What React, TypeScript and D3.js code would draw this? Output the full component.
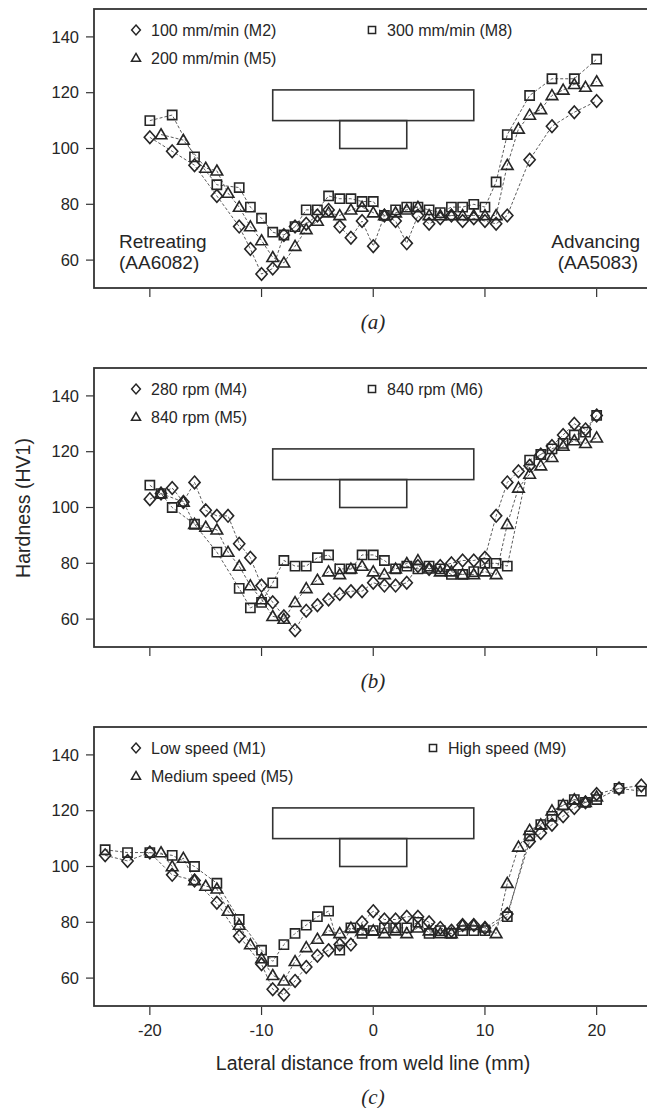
import React from 'react';
import * as d3 from 'd3';

const W = 647;
const H = 1108;
const xTickValues = [-20, -10, 0, 10, 20];
const yTickValues = [60, 80, 100, 120, 140];

// Tool schematic (shoulder and pin)
const shoulderX = [-9, 9];
const shoulderY = [110, 121];
const pinX = [-3, 3];
const pinY = [100, 110];

// Panel (a): traverse speed
const aM2X = [-20,-18,-16,-14,-12,-11,-10,-9,-8,-7,-6,-5,-4,-3,-2,-1,0,1,2,3,4,5,6,7,8,9,10,11,12,14,16,18,20];
const aM2Y = [104,99,94,83,72,64,55,57,69,72,73,76,78,72,68,74,65,76,74,66,76,73,75,76,74,75,74,73,76,96,108,113,117];
const aM8X = [-20,-18,-16,-14,-12,-11,-10,-9,-8,-7,-6,-5,-4,-3,-2,-1,0,1,2,3,4,5,6,7,8,9,10,11,12,14,16,18,20];
const aM8Y = [110,112,97,87,86,79,75,70,69,72,78,78,83,82,82,81,81,76,78,79,79,78,77,79,79,80,79,88,105,119,125,125,132];
const aM5X = [-19,-17,-15,-14,-13,-12,-11,-10,-9,-8,-7,-6,-5,-4,-3,-2,-1,0,1,2,3,4,5,6,7,8,9,10,11,12,13,14,15,16,17,18,19,20];
const aM5Y = [105,103,93,92,84,79,72,67,61,59,65,71,74,77,76,78,79,77,76,77,78,79,76,76,76,76,76,76,76,94,107,112,114,119,121,123,122,124];

// Panel (b): rotation speed
const bM4X = [-20,-19,-18,-17,-16,-15,-14,-13,-12,-11,-10,-9,-8,-7,-6,-5,-4,-3,-2,-1,0,1,2,3,4,5,6,7,8,9,10,11,12,13,14,15,16,17,18,19,20];
const bM4Y = [103,105,107,102,109,99,97,97,87,82,72,66,61,56,63,65,67,69,70,70,73,72,72,73,79,78,79,80,81,81,82,97,109,113,115,119,122,126,130,128,133];
const bM6X = [-20,-19,-18,-16,-14,-12,-11,-10,-9,-8,-7,-6,-5,-4,-3,-2,-1,0,1,2,3,4,5,6,7,8,9,10,11,12,14,15,16,17,18,19,20];
const bM6Y = [108,105,100,94,84,71,64,66,73,81,79,79,82,83,78,78,83,83,81,78,79,78,79,78,76,76,77,80,80,79,117,119,121,123,126,127,133];
const bM5X = [-19,-17,-16,-15,-14,-13,-12,-11,-10,-9,-8,-7,-6,-5,-4,-3,-2,-1,0,1,2,3,4,5,6,7,8,9,10,11,12,13,14,15,16,17,18,19,20];
const bM5Y = [105,102,94,93,92,84,79,72,67,61,60,66,71,74,77,76,78,79,77,76,78,80,81,78,77,77,76,76,77,76,94,107,112,115,118,122,124,123,125];

// Panel (c): overall speed
const cM1X = [-24,-22,-20,-18,-16,-14,-12,-10,-9,-8,-7,-6,-5,-4,-3,-2,-1,0,1,2,3,4,5,6,7,8,9,10,12,14,15,16,17,18,19,20,22,24];
const cM1Y = [104,102,105,97,95,87,75,65,56,54,59,64,68,70,72,72,80,84,81,81,82,82,80,78,77,79,79,78,83,109,112,115,118,121,123,126,128,129];
const cM9X = [-24,-22,-20,-18,-16,-14,-12,-10,-9,-8,-7,-6,-5,-4,-3,-2,-1,0,1,2,3,4,5,6,7,8,9,10,12,14,15,16,17,18,19,20,22,24];
const cM9Y = [106,105,105,104,100,94,81,70,66,72,76,79,82,84,70,78,76,77,78,78,78,80,76,77,76,77,77,77,82,111,115,118,122,124,123,124,128,127];
const cM5X = [-19,-18,-17,-16,-15,-14,-13,-12,-11,-10,-9,-8,-7,-6,-5,-4,-3,-2,-1,0,1,2,3,4,5,6,7,8,9,10,11,12,13,14,15,16,17,18,19,20];
const cM5Y = [105,100,103,95,93,92,84,79,72,67,61,59,66,71,74,77,76,78,77,77,76,77,76,78,77,76,76,79,79,78,76,94,107,113,115,120,122,124,123,125];

const legendA = ['100 mm/min (M2)', '300 mm/min (M8)', '200 mm/min (M5)'];
const legendB = ['280 rpm (M4)', '840 rpm (M6)', '840 rpm (M5)'];
const legendC = ['Low speed (M1)', 'High speed (M9)', 'Medium speed (M5)'];

type Shape = 'diamond' | 'square' | 'triangle';

const SANS = '"Liberation Sans", Arial, Helvetica, sans-serif';
const SERIF = '"Liberation Serif", "Times New Roman", serif';
const INK = '#262626';

function markerPath(shape: Shape, k: number): string {
  if (shape === 'diamond') {
    const h = 6.3 * k, w = 5.6 * k;
    return `M0,${-h}L${w},0L0,${h}L${-w},0Z`;
  }
  if (shape === 'square') {
    const s = 4.6 * k;
    return `M${-s},${-s}H${s}V${s}H${-s}Z`;
  }
  const a = 5.8 * k;
  return `M0,${-a}L${a},${a * 0.72}L${-a},${a * 0.72}Z`;
}

const xScale = d3.scaleLinear().domain([-25, 25]).range([94, 652.5]);

interface PanelProps {
  top: number;
  series: { xs: number[]; ys: number[]; shape: Shape }[];
  legend: string[];
  col2X: number;
  caption: string;
  captionY: number;
  showXLabels: boolean;
  annotate: boolean;
}

function Panel({ top, series, legend, col2X, caption, captionY, showXLabels, annotate }: PanelProps) {
  const y = d3.scaleLinear().domain([50, 150]).range([top + 279, top]);
  const x = xScale;
  const line = d3
    .line<[number, number]>()
    .x((d) => x(d[0]))
    .y((d) => y(d[1]));
  const bottom = y(50);
  const legendRows = [
    { shape: 'diamond' as Shape, label: legend[0], mx: 136, my: top + 21 },
    { shape: 'square' as Shape, label: legend[1], mx: col2X, my: top + 21 },
    { shape: 'triangle' as Shape, label: legend[2], mx: 136, my: top + 49 },
  ];
  return (
    <g>
      <rect x={x(-25)} y={y(150)} width={x(25) - x(-25)} height={bottom - y(150)} fill="none" stroke="#333" strokeWidth={1.8} />
      {yTickValues.map((v) => (
        <g key={'y' + v}>
          <line x1={x(-25) - 8} x2={x(-25)} y1={y(v)} y2={y(v)} stroke="#333" strokeWidth={1.2} />
          <text x={x(-25) - 15} y={y(v)} dy="0.35em" textAnchor="end" fontFamily={SANS} fontSize={16.5} fill={INK}>
            {v}
          </text>
        </g>
      ))}
      {xTickValues.map((v) => (
        <g key={'x' + v}>
          <line x1={x(v)} x2={x(v)} y1={bottom + 1} y2={bottom + 9} stroke="#333" strokeWidth={1.2} />
          {showXLabels && (
            <text x={x(v)} y={bottom + 30} textAnchor="middle" fontFamily={SANS} fontSize={16.5} fill={INK}>
              {v}
            </text>
          )}
        </g>
      ))}
      <rect x={x(shoulderX[0])} y={y(shoulderY[1])} width={x(shoulderX[1]) - x(shoulderX[0])} height={y(shoulderY[0]) - y(shoulderY[1])} fill="none" stroke="#333" strokeWidth={1.6} />
      <rect x={x(pinX[0])} y={y(pinY[1])} width={x(pinX[1]) - x(pinX[0])} height={y(pinY[0]) - y(pinY[1])} fill="none" stroke="#333" strokeWidth={1.6} />
      {series.map((s, i) => (
        <path
          key={'l' + i}
          d={line(s.xs.map((v, j) => [v, s.ys[j]] as [number, number])) || ''}
          fill="none"
          stroke="#4a4a4a"
          strokeWidth={0.9}
          strokeDasharray="3,2"
        />
      ))}
      {series.map((s, i) =>
        s.xs.map((v, j) => (
          <path
            key={'m' + i + '-' + j}
            d={markerPath(s.shape, 1)}
            transform={`translate(${x(v)},${y(s.ys[j])})`}
            fill="none"
            stroke={INK}
            strokeWidth={1.6}
          />
        ))
      )}
      {legendRows.map((r, i) => (
        <g key={'lg' + i}>
          <path d={markerPath(r.shape, 0.78)} transform={`translate(${r.mx},${r.my})`} fill="none" stroke={INK} strokeWidth={1.5} />
          <text x={r.mx + 15} y={r.my} dy="0.35em" fontFamily={SANS} fontSize={16} fill={INK}>
            {r.label}
          </text>
        </g>
      ))}
      {annotate && (
        <g fontFamily={SANS} fontSize={19} fill={INK}>
          <text x={119} y={top + 239}>Retreating</text>
          <text x={119} y={top + 260}>(AA6082)</text>
          <text x={640} y={top + 239} textAnchor="end">Advancing</text>
          <text x={638} y={top + 260} textAnchor="end">(AA5083)</text>
        </g>
      )}
      <text x={373} y={captionY} textAnchor="middle" fontFamily={SERIF} fontStyle="italic" fontSize={21} fill={INK}>
        {caption}
      </text>
    </g>
  );
}

export default function App() {
  return (
    <svg
      width={W}
      height={H}
      viewBox={`0 0 ${W} ${H}`}
      style={{ position: 'absolute', left: 0, top: 0, background: '#fff' }}
    >
      <rect x={0} y={0} width={W} height={H} fill="#fff" />
      <Panel
        top={9}
        series={[
          { xs: aM2X, ys: aM2Y, shape: 'diamond' },
          { xs: aM8X, ys: aM8Y, shape: 'square' },
          { xs: aM5X, ys: aM5Y, shape: 'triangle' },
        ]}
        legend={legendA}
        col2X={372}
        caption="(a)"
        captionY={329}
        showXLabels={false}
        annotate={true}
      />
      <Panel
        top={368}
        series={[
          { xs: bM4X, ys: bM4Y, shape: 'diamond' },
          { xs: bM6X, ys: bM6Y, shape: 'square' },
          { xs: bM5X, ys: bM5Y, shape: 'triangle' },
        ]}
        legend={legendB}
        col2X={372}
        caption="(b)"
        captionY={688}
        showXLabels={false}
        annotate={false}
      />
      <Panel
        top={727}
        series={[
          { xs: cM1X, ys: cM1Y, shape: 'diamond' },
          { xs: cM9X, ys: cM9Y, shape: 'square' },
          { xs: cM5X, ys: cM5Y, shape: 'triangle' },
        ]}
        legend={legendC}
        col2X={433}
        caption="(c)"
        captionY={1104}
        showXLabels={true}
        annotate={false}
      />
      <text
        transform="translate(30,508) rotate(-90)"
        textAnchor="middle"
        fontFamily={SANS}
        fontSize={19.5}
        fill={INK}
      >
        Hardness (HV1)
      </text>
      <text x={373} y={1070} textAnchor="middle" fontFamily={SANS} fontSize={19.5} fill={INK}>
        Lateral distance from weld line (mm)
      </text>
    </svg>
  );
}
